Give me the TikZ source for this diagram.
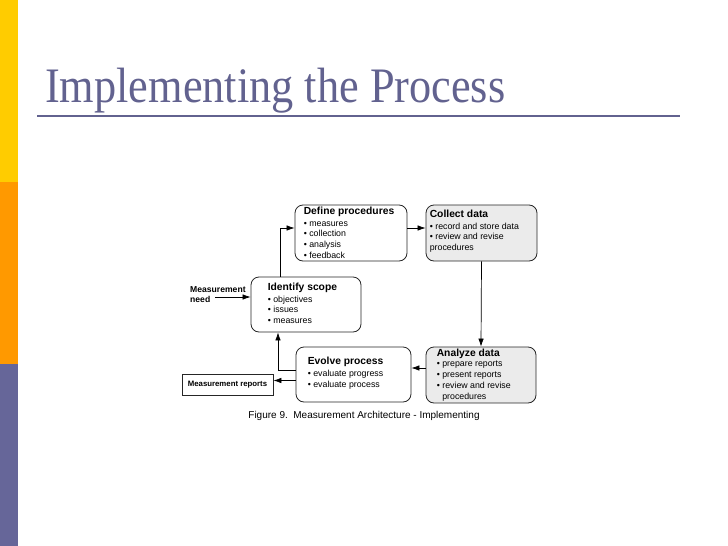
\documentclass[tikz,border=0pt]{standalone}
\usepackage{fontspec}
\setmainfont{Liberation Serif}
\newfontfamily\arialfont{Liberation Sans}
\usetikzlibrary{arrows.meta}
\definecolor{slideblue}{HTML}{62628F}
\definecolor{barblue}{HTML}{666699}
\definecolor{baryellow}{HTML}{FFCC00}
\definecolor{barorange}{HTML}{FF9900}
\definecolor{boxgray}{HTML}{EBEBEB}
\newcommand\boxhead[1]{{\bfseries\fontsize{10.3}{12}\selectfont #1}}
\begin{document}
\begin{tikzpicture}[x=1pt,y=-1pt,
  box/.style={draw=black!85,line width=0.8pt,rounded corners=8pt,minimum width=#1,minimum height=56pt,inner sep=0pt},
  box/.default=110pt,
  txt/.style={font=\arialfont\fontsize{8.8}{10.8}\selectfont,align=left,anchor=west,inner sep=0pt},
  arr/.style={-{Latex[length=8pt,width=5.5pt]},line width=0.7pt}]
\useasboundingbox(0,0) rectangle (728,546);
%
\fill[baryellow](0,0) rectangle (18,182);
\fill[barorange](0,182) rectangle (18,364);
\fill[barblue](0,364) rectangle (18,546);
%
\node[anchor=base west,inner sep=0pt,text=slideblue,font=\fontsize{44.3}{48}\selectfont] (title) at (45,102) {\scalebox{1}[1.12]{Implementing the Process}};
\draw[slideblue,line width=2pt](37,116)--(680,116);
%
\node[box=112pt] (define) at (351,233) {};
\node[box=111pt,fill=boxgray] (collect) at (481.5,233) {};
\node[box=110pt,minimum height=55pt] (scope) at (306,304.5) {};
\node[box=115pt,minimum height=55pt] (evolve) at (353.5,374.5) {};
\node[box=110pt,fill=boxgray] (analyze) at (481,375) {};
\node[draw=black!85,line width=0.8pt,minimum width=91pt,minimum height=21pt,inner sep=0pt,font=\arialfont\bfseries\fontsize{7.8}{9}\selectfont] (reports) at (227.5,384.5) {Measurement reports};
%
\node[txt] at ([xshift=9pt]define.west) {\boxhead{Define procedures}\\[0.5pt] • measures\\ • collection\\ • analysis\\ • feedback};
\node[txt] at ([xshift=4pt,yshift=1.5pt]collect.west) {\boxhead{Collect data}\\[0.5pt] • record and store data\\ • review and revise\\ procedures};
\node[txt] at ([xshift=17pt,yshift=1pt]scope.west) {\boxhead{Identify scope}\\[0.5pt] • objectives\\ • issues\\ • measures};
\node[txt] at ([xshift=12pt,yshift=1.5pt]evolve.west) {\boxhead{Evolve process}\\[1pt] • evaluate progress\\ • evaluate process};
\node[txt] at ([xshift=11pt]analyze.west) {\boxhead{Analyze data}\\[-0.5pt] • prepare reports\\ • present reports\\ • review and revise\\ \phantom{• }procedures};
%
\node[txt,anchor=north west,font=\arialfont\bfseries\fontsize{8.6}{9.5}\selectfont] (needtxt) at (190,286.5) {Measurement\\need};
\coordinate (need) at (215,297);
%
\draw[arr](need)--(need-|scope.west);
\draw[arr]([xshift=-26pt]scope.north)|-([yshift=5pt]define.west);
\draw[arr]([yshift=5pt]define.east)--([yshift=5pt]collect.west);
\draw[arr](collect.south)--(analyze.north);
\draw[arr]([yshift=7pt]analyze.west)--([yshift=7pt]analyze.west-|evolve.east);
\draw[arr]([yshift=4.5pt]evolve.west)-|([xshift=-28pt]scope.south);
\draw[arr]([yshift=-6pt]evolve.west)--([yshift=-6pt]evolve.west-|reports.east);
%
\node[font=\arialfont\fontsize{10}{12}\selectfont,inner sep=0pt] (caption) at (364,416) {Figure 9.\ \ Measurement Architecture - Implementing};
\end{tikzpicture}
\end{document}
